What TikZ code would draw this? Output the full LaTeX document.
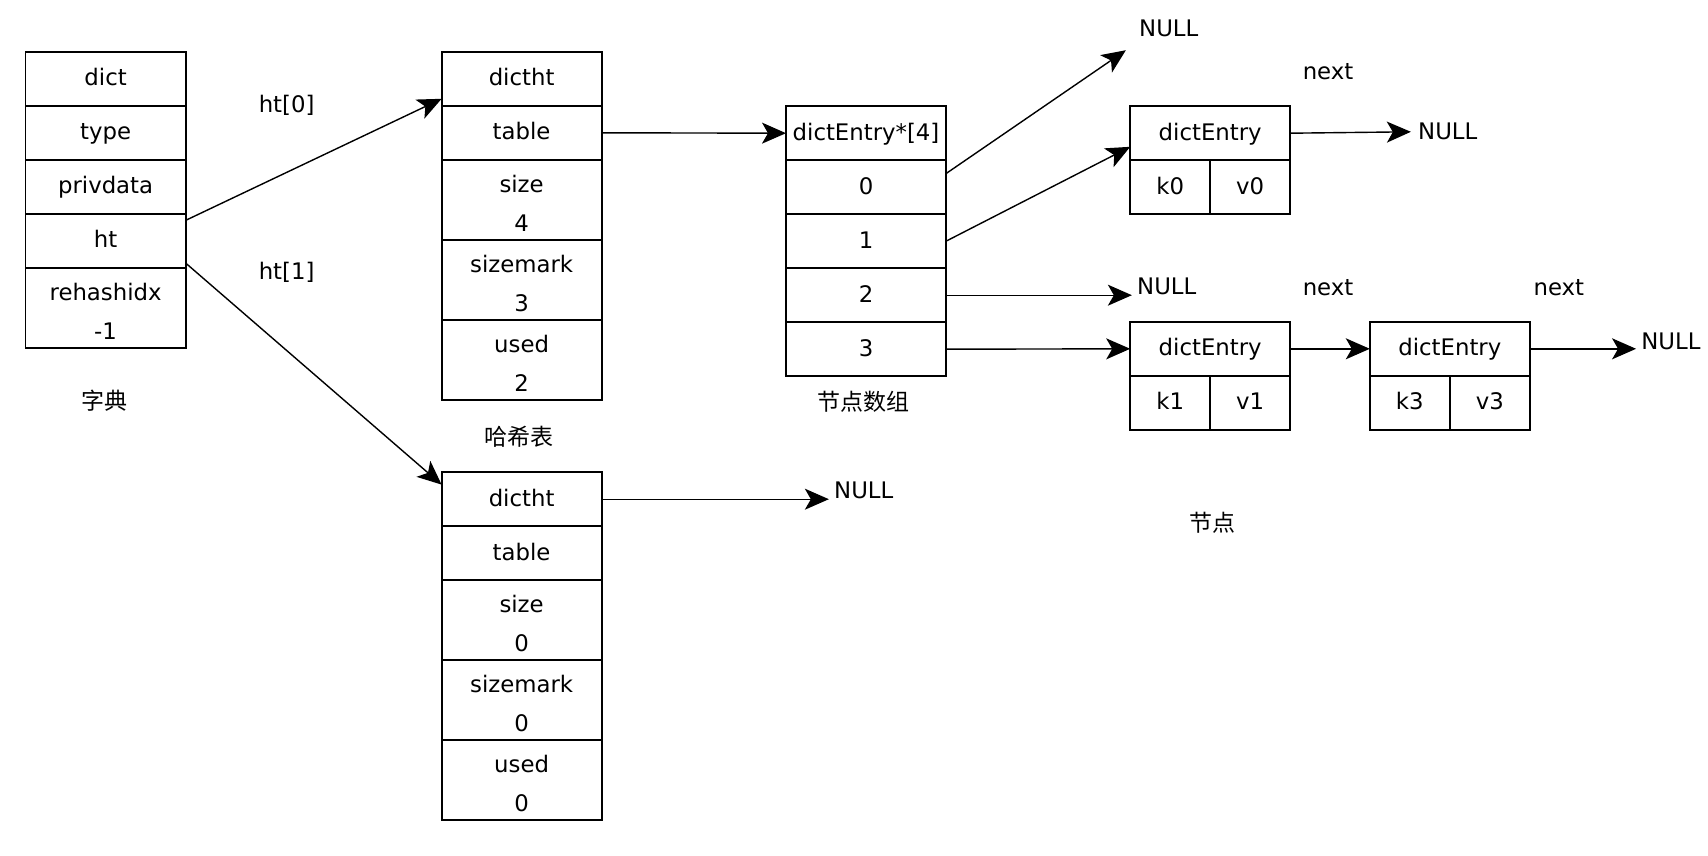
\documentclass[tikz,border=0pt]{standalone}
\usepackage{fontspec}
\setmainfont{DejaVu Sans}
\newfontfamily\cjk{Noto Sans CJK SC}
\usepackage{tikz}
\usetikzlibrary{matrix,arrows.meta}
\usetikzlibrary{calc}

\newcommand{\pair}[2]{\begin{tabular}[t]{@{}c@{}}#1\\[5.5pt]#2\end{tabular}}
\newcommand{\kv}[2]{\makebox[40pt]{#1}\makebox[40pt]{#2}}

\tikzset{
	rec/.style={matrix of nodes, row sep=-0.9pt, anchor=north west, inner sep=0pt,
		nodes={draw, line width=0.9pt, minimum width=80pt, minimum height=27pt, inner sep=0pt, outer sep=0pt,
			text height=8.5pt, text depth=1.5pt}},
	tall/.style={minimum height=40pt, text height=16.3pt, text depth=23.7pt},
	zh/.style={font=\cjk\fontsize{11.5}{14}\selectfont}
}

\begin{document}
\begin{tikzpicture}[x=1pt, y=1pt, line width=0.7pt,
	>={Stealth[length=12pt,width=10.5pt,inset=3pt]},
	font=\fontsize{11.4}{14}\selectfont]
	\useasboundingbox (0,0) rectangle (854,-428);
	% dict
	\matrix (dict) [rec] at (12,-25.1)
	{
		dict \\
		type \\
		privdata \\
		ht \\
		|[tall]| \pair{rehashidx}{-1} \\
	};
	\node at (52.3,-200.4) [zh] {字典};
	% hash tables
	\matrix (ht0) [rec] at (220,-25.1)
	{
		dictht \\
		table \\
		|[tall]| \pair{size}{4} \\
		|[tall]| \pair{sizemark}{3} \\
		|[tall]| \pair{used}{2} \\
	};
	\node at (259.3,-218.4) [zh] {哈希表};
	\matrix (ht1) [rec] at (220,-235.3)
	{
		dictht \\
		table \\
		|[tall]| \pair{size}{0} \\
		|[tall]| \pair{sizemark}{0} \\
		|[tall]| \pair{used}{0} \\
	};
	% bucket array
	\matrix (arr) [rec] at (392.2,-52.3)
	{
		dictEntry*[4] \\
		0 \\
		1 \\
		2 \\
		3 \\
	};
	\node at (431.9,-201) [zh] {节点数组};
	% entries
	\matrix (e0) [rec] at (564.3,-52.3)
	{
		dictEntry \\
		\kv{k0}{v0} \\
	};
	\matrix (e1) [rec] at (564.3,-160.1)
	{
		dictEntry \\
		\kv{k1}{v1} \\
	};
	\matrix (e3) [rec] at (684.1,-160.1)
	{
		dictEntry \\
		\kv{k3}{v3} \\
	};
	\foreach \e in {e0,e1,e3}
		\draw[line width=0.9pt] (\e-2-1.north) -- (\e-2-1.south);
	\node at (606.2,-261.4) [zh] {节点};

	\node (null0) at (584.4,-14.2) {NULL};
	\node (null1) at (723.9,-65.9) {NULL};
	\node (null2) at (583.4,-143.3) {NULL};
	\node (null3) at (835.5,-170.5) {NULL};
	\node (null4) at (431.9,-245.1) {NULL};

	\node at (143.3,-52.8) {ht[0]};
	\node at (143.3,-136.2) {ht[1]};
	\node at (664,-35.9) {next};
	\node at (664,-143.8) {next};
	\node at (779.4,-143.8) {next};

	\path[->]
	([yshift=-3.3pt]dict-4-1.north east) edge ([yshift=3.5pt]ht0-1-1.south west)
	([yshift=2.4pt]dict-4-1.south east)  edge ([yshift=-6.2pt]ht1-1-1.north west)
	(ht0-2-1.east) edge (arr-1-1.west)
	(ht1-1-1.east) edge ([xshift=1pt]ht1-1-1.east -| null4.west)
	([yshift=-6.7pt]arr-2-1.north east) edge ([xshift=-3pt,yshift=-3pt]null0.south west)
	(arr-3-1.east) edge ([yshift=6.7pt]e0-1-1.south west)
	(arr-4-1.east) edge ([xshift=1pt]arr-4-1.east -| null2.west)
	(arr-5-1.east) edge (e1-1-1.west)
	(e0-1-1.east)  edge (null1.west)
	(e1-1-1.east)  edge (e3-1-1.west)
	(e3-1-1.east)  edge ([xshift=1pt]e3-1-1.east -| null3.west)
	;
\end{tikzpicture}
\end{document}
